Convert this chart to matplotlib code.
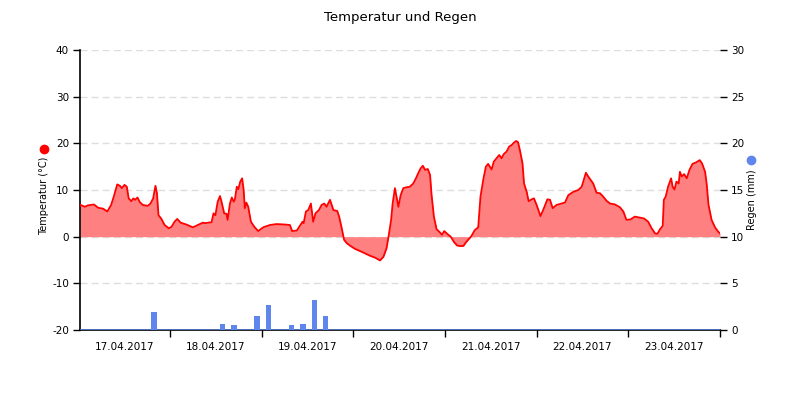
import numpy as np
import matplotlib
matplotlib.use("Agg")
import matplotlib.pyplot as plt

plt.rcParams["axes.unicode_minus"] = False

# temperature readings: hours since 17.04.2017 00:00, degrees C
hours = [0.45, 0.6, 1.7, 2.5, 4.1, 5.2, 6.5, 7.6, 8.6, 9.3, 10.2, 10.9, 11.4, 12.1, 12.7,
         13.2, 13.9, 14.4, 14.9, 15.5, 16.1, 16.9, 18.2, 18.9, 19.6, 20.2, 20.6, 21.0,
         21.7, 22.6, 23.7, 24.4, 25.2, 25.9, 26.8, 28.3, 30.0, 31.3, 32.6,
         33.2, 34.9, 35.4, 35.9, 36.5, 37.1, 37.5, 38.2, 38.8, 39.1, 39.7, 40.2, 40.7,
         41.0, 41.5, 41.9, 42.4, 42.9, 43.3, 43.6, 44.0, 44.5, 45.2, 46.1, 47.1, 48.4,
         50.2, 51.9, 54.1, 55.4, 56.0, 57.2, 58.0, 58.7, 59.0, 59.6, 60.2, 60.9, 61.5,
         62.1, 63.0, 63.7, 64.4, 65.0, 65.9,
         66.8, 67.8, 68.3, 68.9, 69.6, 70.3, 71.1, 72.4, 73.8, 75.1, 76.4, 77.7, 79.0,
         79.9, 80.7, 81.3, 81.9, 82.3, 82.9, 83.4, 83.8, 84.4, 85.1, 86.0, 86.8, 87.7,
         88.4, 89.0, 89.6, 90.2, 90.8, 91.5, 92.1, 92.5, 93.1, 93.8, 94.7, 95.2, 95.8,
         96.6, 97.5, 98.4, 99.2,
         99.9, 100.8, 101.6, 102.9, 103.8, 104.7, 105.3, 106.0, 106.7, 107.3, 108.2,
         108.8, 109.5, 110.2, 110.8, 111.4, 112.1, 112.8, 113.4, 114.0, 114.6, 115.1,
         115.6, 116.3, 116.7, 117.4, 117.9, 118.7, 119.3, 120.0, 121.0, 121.9, 122.8,
         123.5, 124.2, 125.2, 126.5, 127.4, 128.3, 129.6, 130.9, 131.8, 132.4, 132.9,
         133.5,
         134.8, 135.7, 136.6, 137.4, 138.3, 139.2, 140.5, 141.8, 142.7, 143.5, 144.6,
         145.7, 146.9, 148.1, 149.2, 150.1, 151.0, 151.6, 152.3, 153.0, 153.3, 153.8,
         154.4, 154.9, 155.2, 155.6, 156.1, 156.6, 157.2, 157.5, 158.0, 158.6, 159.3,
         160.0, 160.8, 161.7, 162.7, 163.3, 164.1, 164.5, 165.0, 165.8, 166.7, 167.5,
         168.0]
temps = [6.6, 6.8, 6.4, 6.7, 6.9, 6.2, 6.0, 5.4, 6.8, 8.6, 11.2, 10.9, 10.4, 11.1, 10.7,
         8.2, 7.6, 8.2, 7.9, 8.4, 7.4, 6.8, 6.6, 7.1, 8.2, 10.9, 9.3, 4.6,
         3.9, 2.5, 1.8, 2.1, 3.2, 3.8, 3.0, 2.6, 2.0, 2.5, 3.0,
         2.9, 3.1, 5.0, 4.6, 7.5, 8.7, 7.5, 5.0, 4.9, 3.6, 7.1, 8.4, 7.5,
         8.0, 10.7, 10.2, 11.8, 12.5, 10.0, 6.1, 7.3, 6.4, 3.2, 2.1, 1.2, 2.0,
         2.5, 2.7, 2.6, 2.5, 1.2, 1.3, 2.3, 3.2, 2.9, 5.4, 5.7, 7.1, 3.2,
         5.0, 5.7, 6.8, 7.1, 6.4, 7.9,
         5.7, 5.5, 4.3, 2.1, -0.7, -1.4, -1.9, -2.6, -3.1, -3.6, -4.1, -4.5, -5.1,
         -4.3, -2.5, 0.4, 3.6, 7.1, 10.4, 8.2, 6.4, 8.9, 10.4, 10.6, 10.7, 11.4,
         12.5, 13.6, 14.6, 15.2, 14.3, 14.5, 13.2, 8.9, 4.3, 1.6, 0.9, 0.4, 1.2,
         0.6, 0.0, -1.2, -1.9,
         -2.0, -2.0, -1.1, 0.1, 1.4, 2.0, 8.6, 12.1, 15.0, 15.6, 14.4,
         16.1, 16.8, 17.5, 16.8, 17.7, 18.2, 19.3, 19.6, 20.1, 20.5, 20.3,
         18.6, 15.7, 11.4, 9.6, 7.6, 8.0, 8.2, 6.8, 4.4, 6.1, 8.0,
         7.9, 6.1, 6.8, 7.1, 7.3, 8.9, 9.6, 10.0, 10.7, 12.3, 13.7,
         12.9,
         11.4, 9.4, 9.3, 8.6, 7.7, 7.1, 6.9, 6.3, 5.4, 3.6, 3.7,
         4.3, 4.1, 3.9, 3.2, 1.8, 0.7, 0.6, 1.6, 2.3, 7.9, 8.6,
         10.7, 11.8, 12.5, 10.7, 10.1, 11.8, 11.4, 13.9, 12.9, 13.4, 12.5,
         14.3, 15.6, 15.9, 16.4, 15.7, 13.9, 11.4, 6.8, 3.6, 2.0, 1.1,
         0.7]

# rain, 3-hourly sums (mm)
rain_hours = [19.8, 37.8, 40.8, 46.8, 49.8, 55.8, 58.8, 61.8, 64.8]
rain_mm = [1.9, 0.6, 0.5, 1.55, 2.65, 0.5, 0.6, 3.2, 1.55]

day_labels = ["17.04.2017", "18.04.2017", "19.04.2017", "20.04.2017",
              "21.04.2017", "22.04.2017", "23.04.2017"]

red = "#ff0000"
blue = "#5f86ec"

fig = plt.figure(figsize=(8, 4), dpi=100)
ax = fig.add_axes([0.1, 0.175, 0.8, 0.7])
ax2 = ax.twinx()

h = np.array(hours)
t = np.array(temps)
ax.fill_between(h, 0, t, color="#ff8080", lw=0, zorder=2)
ax.plot(h, t, color=red, lw=1.3, zorder=3)

ax.set_xlim(hours[0], hours[-1])
ax.set_ylim(-20, 40)
ax.set_yticks(range(-20, 41, 10))
ax.yaxis.grid(True, color="#dddddd", ls=(0, (5, 3)), lw=1)
ax.set_axisbelow(True)

ax2.bar(rain_hours, rain_mm, width=1.4, color=blue, zorder=2)
ax2.axhline(0, color=blue, lw=1.8, zorder=3)
ax2.set_ylim(0, 30)
ax2.set_yticks(range(0, 31, 5))

# x axis: day boundaries as ticks, labels at midday
ax.set_xticks([24 * d for d in range(1, 8)])
ax.set_xticklabels([])
ax.set_xticks([24 * d + 12 for d in range(7)], minor=True)
ax.set_xticklabels(day_labels, minor=True)
ax.tick_params(axis="x", which="minor", length=0, pad=9, labelsize=7.5)
ax.tick_params(axis="x", which="major", length=5, width=1, color="black")
ax.tick_params(axis="y", length=5, width=1, labelsize=7.5, pad=3)
ax2.tick_params(axis="y", length=5, width=1, labelsize=7.5, pad=3)

for a in (ax, ax2):
    a.spines["top"].set_visible(False)
    a.spines["right"].set_visible(False)
ax2.spines["left"].set_visible(False)
ax2.spines["bottom"].set_visible(False)
ax.spines["left"].set_linewidth(1.2)
ax.spines["bottom"].set_linewidth(1.2)

fig.text(0.5, 0.957, "Temperatur und Regen", ha="center", va="center", fontsize=9.5)
fig.text(0.055, 0.51, "Temperatur (°C)", rotation=90, ha="center", va="center", fontsize=7)
fig.text(0.94, 0.5, "Regen (mm)", rotation=90, ha="center", va="center", fontsize=7)
fig.lines.append(plt.Line2D([0.055], [0.628], marker="o", ms=6, color=red,
                            transform=fig.transFigure, figure=fig))
fig.lines.append(plt.Line2D([0.939], [0.6], marker="o", ms=6, color=blue,
                            transform=fig.transFigure, figure=fig))

fig.savefig("out.png", dpi=100)
